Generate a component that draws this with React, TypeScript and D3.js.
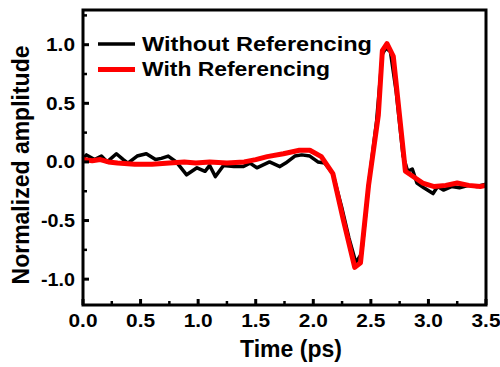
import React from "react";
import * as d3 from "d3";

const blackT = [0.0,0.03,0.1,0.16,0.21,0.29,0.35,0.39,0.47,0.55,0.63,0.68,0.74,0.81,0.9,0.99,1.06,1.1,1.15,1.22,1.31,1.39,1.45,1.51,1.62,1.71,1.76,1.84,1.9,1.97,2.04,2.1,2.17,2.25,2.31,2.37,2.42,2.48,2.55,2.6,2.63,2.67,2.72,2.78,2.82,2.86,2.9,2.96,3.04,3.08,3.13,3.2,3.27,3.35,3.42,3.5];
const blackV = [0.03,0.06,0.02,0.05,0.0,0.07,0.02,-0.01,0.05,0.07,0.02,0.03,0.05,0.0,-0.11,-0.05,-0.08,-0.03,-0.125,-0.03,-0.04,-0.04,-0.01,-0.05,0.0,-0.04,-0.01,0.05,0.06,0.05,0.0,-0.01,-0.1,-0.4,-0.65,-0.86,-0.78,-0.2,0.35,0.92,0.97,0.94,0.6,0.05,-0.08,-0.06,-0.18,-0.22,-0.27,-0.21,-0.24,-0.21,-0.22,-0.2,-0.21,-0.19];

const redT = [0.0,0.08,0.15,0.22,0.3,0.45,0.6,0.75,0.88,0.98,1.1,1.25,1.4,1.5,1.6,1.74,1.88,1.97,2.07,2.17,2.26,2.36,2.41,2.48,2.565,2.6,2.64,2.695,2.8,2.95,3.05,3.15,3.25,3.35,3.45,3.5];
const redV = [0.02,0.01,0.02,0.0,-0.01,-0.02,-0.02,-0.01,0.0,-0.01,0.0,-0.01,0.0,0.02,0.045,0.07,0.1,0.1,0.045,-0.1,-0.49,-0.9,-0.86,-0.2,0.4,0.95,1.01,0.9,-0.08,-0.18,-0.21,-0.2,-0.18,-0.2,-0.21,-0.2];

const xTicks = [0, 0.5, 1.0, 1.5, 2.0, 2.5, 3.0, 3.5];
const xMinor = [0.25, 0.75, 1.25, 1.75, 2.25, 2.75, 3.25];
const yTicks = [-1.0, -0.5, 0.0, 0.5, 1.0];
const yMinor = [-0.75, -0.25, 0.25, 0.75, 1.25];
const seriesNames = ["Without Referencing", "With Referencing"];
const seriesColors = ["#000000", "#ff0000"];

const FONT = "'Liberation Sans', Arial, sans-serif";

export default function App() {
  const L = 83, R = 486, T = 10, B = 305;
  const x = d3.scaleLinear().domain([0, 3.5]).range([L, R]);
  const y = d3.scaleLinear().domain([-1.2205, 1.296]).range([B, T]);
  const line = d3.line<[number, number]>().x(d => x(d[0])).y(d => y(d[1]));
  const black = blackT.map((t, i) => [t, blackV[i]] as [number, number]);
  const red = redT.map((t, i) => [t, redV[i]] as [number, number]);

  return (
    <svg width={500} height={367} style={{ position: "absolute", left: 0, top: 0, background: "#fff" }}>
      <rect x={0} y={0} width={500} height={367} fill="#fff" />
      <path d={line(black) || ""} fill="none" stroke={seriesColors[0]} strokeWidth={3.5} strokeLinejoin="round" />
      <path d={line(red) || ""} fill="none" stroke={seriesColors[1]} strokeWidth={5} strokeLinejoin="round" />
      <rect x={L} y={T} width={R - L} height={B - T} fill="none" stroke="#000" strokeWidth={3} />
      {xTicks.map(v => (
        <g key={"xt" + v}>
          <line x1={x(v)} x2={x(v)} y1={B} y2={B - 6} stroke="#000" strokeWidth={3} />
          <text x={x(v)} y={327} textAnchor="middle" fontFamily={FONT} fontWeight="bold" fontSize={18} textLength={29} lengthAdjust="spacingAndGlyphs">{v.toFixed(1)}</text>
        </g>
      ))}
      {xMinor.map(v => (
        <line key={"xm" + v} x1={x(v)} x2={x(v)} y1={B} y2={B - 4} stroke="#000" strokeWidth={2.5} />
      ))}
      {yTicks.map(v => (
        <g key={"yt" + v}>
          <line x1={L} x2={L + 6} y1={y(v)} y2={y(v)} stroke="#000" strokeWidth={3} />
          <text x={75} y={y(v) + 6.5} textAnchor="end" fontFamily={FONT} fontWeight="bold" fontSize={18} textLength={v < 0 ? 34 : 29} lengthAdjust="spacingAndGlyphs">{v.toFixed(1)}</text>
        </g>
      ))}
      {yMinor.map(v => (
        <line key={"ym" + v} x1={L} x2={L + 4} y1={y(v)} y2={y(v)} stroke="#000" strokeWidth={2.5} />
      ))}
      <text x={291} y={357} textAnchor="middle" fontFamily={FONT} fontWeight="bold" fontSize={23}>Time (ps)</text>
      <text transform="translate(29,165) rotate(-90)" textAnchor="middle" fontFamily={FONT} fontWeight="bold" fontSize={23}>Normalized amplitude</text>
      {seriesNames.map((n, i) => (
        <g key={n}>
          <line x1={98} x2={135} y1={44 + i * 25.5} y2={44 + i * 25.5} stroke={seriesColors[i]} strokeWidth={i === 0 ? 3.5 : 5} />
          <text x={142} y={50.5 + i * 25.5} fontFamily={FONT} fontWeight="bold" fontSize={21} textLength={i === 0 ? 230 : 188} lengthAdjust="spacingAndGlyphs">{n}</text>
        </g>
      ))}
    </svg>
  );
}
